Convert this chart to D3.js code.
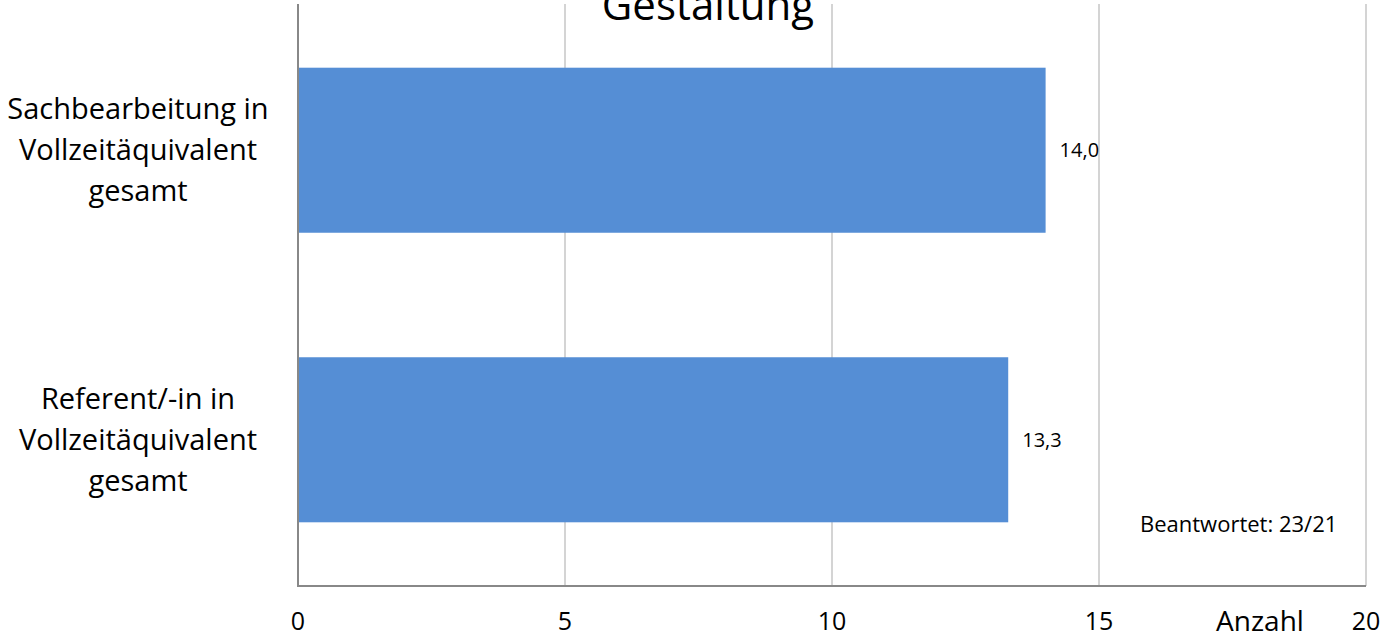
<!DOCTYPE html>
<html>
<head>
<meta charset="utf-8">
<script src="https://cdn.jsdelivr.net/npm/d3@7"></script>
<style>
  body { margin: 0; background: #fff; }
  text { font-family: "Open Sans", "Noto Sans", sans-serif; fill: #000; }
</style>
</head>
<body>
<script>
var categories = [
  ["Sachbearbeitung in", "Vollzeitäquivalent", "gesamt"],
  ["Referent/-in in", "Vollzeitäquivalent", "gesamt"]
];
var values = [14.0, 13.3];
var valueLabels = ["14,0", "13,3"];
var ticks = [0, 5, 10, 15, 20];
var title = "Gestaltung";
var note = "Beantwortet: 23/21";
var axisTitle = "Anzahl";

var width = 1385, height = 636;
var plotLeft = 298, plotRight = 1366, plotTop = 4, plotBottom = 586;

var svg = d3.select('body').append('svg')
  .attr('width', width)
  .attr('height', height);

var x = d3.scaleLinear().domain([0, 20]).range([plotLeft, plotRight]);
var y = d3.scaleBand().domain(d3.range(categories.length))
  .range([plotTop, plotBottom]).paddingInner(0.43).paddingOuter(0.22);

// gridlines
svg.selectAll('line.grid')
  .data(ticks.filter(function(d) { return d > 0; }))
  .enter()
  .append('line')
    .attr('class', 'grid')
    .attr('x1', function(d) { return x(d); })
    .attr('x2', function(d) { return x(d); })
    .attr('y1', plotTop)
    .attr('y2', plotBottom)
    .attr('stroke', '#c6c6c6')
    .attr('stroke-width', 1.5);

// bars
svg.selectAll('rect.bar')
  .data(values)
  .enter()
  .append('rect')
    .attr('class', 'bar')
    .attr('x', x(0))
    .attr('y', function(d, i) { return y(i); })
    .attr('width', function(d) { return x(d) - x(0); })
    .attr('height', y.bandwidth())
    .attr('fill', '#558ed5');

// axis lines
svg.append('line')
  .attr('x1', plotLeft).attr('x2', plotLeft)
  .attr('y1', plotTop).attr('y2', plotBottom)
  .attr('stroke', '#888').attr('stroke-width', 2);
svg.append('line')
  .attr('x1', plotLeft - 1).attr('x2', plotRight)
  .attr('y1', plotBottom).attr('y2', plotBottom)
  .attr('stroke', '#888').attr('stroke-width', 2);

// tick labels
svg.selectAll('text.tick')
  .data(ticks)
  .enter()
  .append('text')
    .attr('class', 'tick')
    .attr('x', function(d) { return x(d); })
    .attr('y', 630)
    .attr('text-anchor', 'middle')
    .style('font-size', '25px')
    .text(function(d) { return d; });

// value labels
svg.selectAll('text.val')
  .data(values)
  .enter()
  .append('text')
    .attr('class', 'val')
    .attr('x', function(d) { return x(d) + 14; })
    .attr('y', function(d, i) { return y(i) + y.bandwidth() / 2 + 7; })
    .style('font-size', '20px')
    .text(function(d, i) { return valueLabels[i]; });

// category labels
var cat = svg.selectAll('text.cat')
  .data(categories)
  .enter()
  .append('text')
    .attr('class', 'cat')
    .attr('text-anchor', 'middle')
    .style('font-size', '29px')
    .attr('y', function(d, i) { return y(i) + y.bandwidth() / 2; });

cat.selectAll('tspan')
  .data(function(d) { return d; })
  .enter()
  .append('tspan')
    .attr('x', 138)
    .attr('dy', function(d, j) { return j === 0 ? -31 : 41; })
    .text(function(d) { return d; });

// title (cut off at top)
svg.append('text')
  .attr('x', 708)
  .attr('y', 20)
  .attr('text-anchor', 'middle')
  .style('font-size', '42px')
  .text(title);

svg.append('text')
  .attr('x', 1140)
  .attr('y', 532)
  .style('font-size', '22px')
  .text(note);

svg.append('text')
  .attr('x', 1260)
  .attr('y', 631)
  .attr('text-anchor', 'middle')
  .style('font-size', '28px')
  .text(axisTitle);
</script>
</body>
</html>
